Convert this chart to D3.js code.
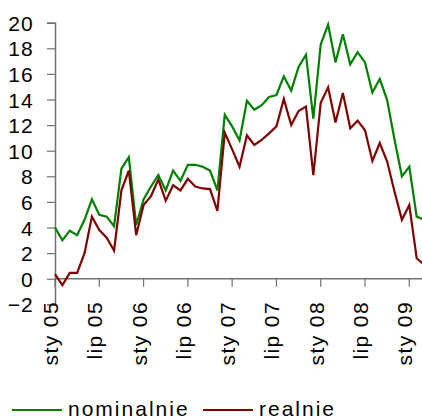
<!DOCTYPE html>
<html><head><meta charset="utf-8">
<script src="https://cdn.jsdelivr.net/npm/d3@7"></script>
<style>html,body{margin:0;padding:0;background:#fff;overflow:hidden}</style>
</head><body>
<svg id="chart" width="422" height="419"></svg>
<script>
const monthNames = ["sty","lut","mar","kwi","maj","cze","lip","sie","wrz","paź","lis","gru"];
const categories = [];
for (let y = 5; y <= 9; y++) for (let m = 0; m < 12; m++) categories.push(monthNames[m] + " 0" + y);
const nominalnie = [4.0,3.0,3.75,3.4,4.6,6.2,5.0,4.85,4.1,8.6,9.5,4.2,
  6.2,7.2,8.1,6.9,8.45,7.65,8.9,8.9,8.75,8.45,6.9,12.8,
  11.9,10.8,13.9,13.2,13.55,14.2,14.35,15.8,14.7,16.55,17.5,12.5,
  18.3,19.85,16.9,19.1,16.75,17.7,16.9,14.55,15.6,13.95,10.85,8.0,
  8.75,4.85,4.6];
const realnie = [0.35,-0.5,0.45,0.45,2.0,4.85,3.8,3.2,2.2,6.9,8.45,3.4,
  5.75,6.45,7.75,6.1,7.3,6.9,7.8,7.2,7.05,7.0,5.3,11.4,
  10.1,8.75,11.2,10.45,10.85,11.35,11.9,14.05,12.0,13.1,13.45,8.1,
  13.75,14.95,12.2,14.5,11.75,12.35,11.6,9.2,10.6,9.15,6.8,4.6,
  5.75,1.6,1.1];
const yTicks = [-2,0,2,4,6,8,10,12,14,16,18,20];
const seriesNames = ["nominalnie","realnie"];
const seriesColors = ["#008000","#800000"];

const svg = d3.select("#chart");
const font = "'Liberation Sans', Arial, sans-serif";
const x = d3.scaleLinear().domain([0, 48]).range([55, 409.3]);
const y = d3.scaleLinear().domain([-2, 20]).range([304.3, 22.7]);
const axisColor = "#707070";

// y axis
const yAxis = svg.append("g").attr("transform", "translate(55,0)")
  .call(d3.axisLeft(y).tickValues(yTicks).tickSize(8).tickPadding(13).tickFormat(d3.format("d")));
yAxis.select(".domain").attr("stroke", axisColor).attr("stroke-width", 1.5);
yAxis.selectAll(".tick line").attr("stroke", axisColor).attr("stroke-width", 1.2);
yAxis.selectAll("text").attr("font-family", font).attr("font-size", 21)
  .attr("letter-spacing", "1.2px").attr("fill", "#000").attr("dy", "0.36em");

// x axis line at zero
const xIdx = d3.range(0, nominalnie.length);
svg.append("line").attr("x1", x(0)).attr("x2", 422).attr("y1", y(0)).attr("y2", y(0))
  .attr("stroke", axisColor).attr("stroke-width", 1.5);
const tickIdx = xIdx.filter(i => i % 6 === 0);
svg.append("g").selectAll("line").data(tickIdx).join("line")
  .attr("x1", d => x(d)).attr("x2", d => x(d))
  .attr("y1", y(0)).attr("y2", y(0) + 8)
  .attr("stroke", axisColor).attr("stroke-width", 1.2);
svg.append("g").selectAll("text").data(tickIdx).join("text")
  .attr("transform", d => `translate(${x(d) + 3},301) rotate(-90)`)
  .attr("text-anchor", "end")
  .attr("font-family", font).attr("font-size", 21).attr("letter-spacing", "1.4px")
  .text(d => categories[d]);

// lines
const seriesData = [nominalnie, realnie];
const line = d3.line().x((d, i) => x(i)).y(d => y(d));
seriesData.forEach((s, k) => {
  svg.append("path").datum(s).attr("d", line)
    .attr("fill", "none").attr("stroke", seriesColors[k]).attr("stroke-width", 2.2)
    .attr("stroke-linejoin", "miter");
});

// legend
const legendX = [12, 203];
seriesNames.forEach((n, k) => {
  svg.append("line").attr("x1", legendX[k]).attr("x2", legendX[k] + 50)
    .attr("y1", 410).attr("y2", 410).attr("stroke", seriesColors[k]).attr("stroke-width", 2);
  svg.append("text").attr("x", legendX[k] + 56).attr("y", 416)
    .attr("font-family", font).attr("font-size", 21).attr("letter-spacing", "2px")
    .text(n);
});
</script>
</body></html>
